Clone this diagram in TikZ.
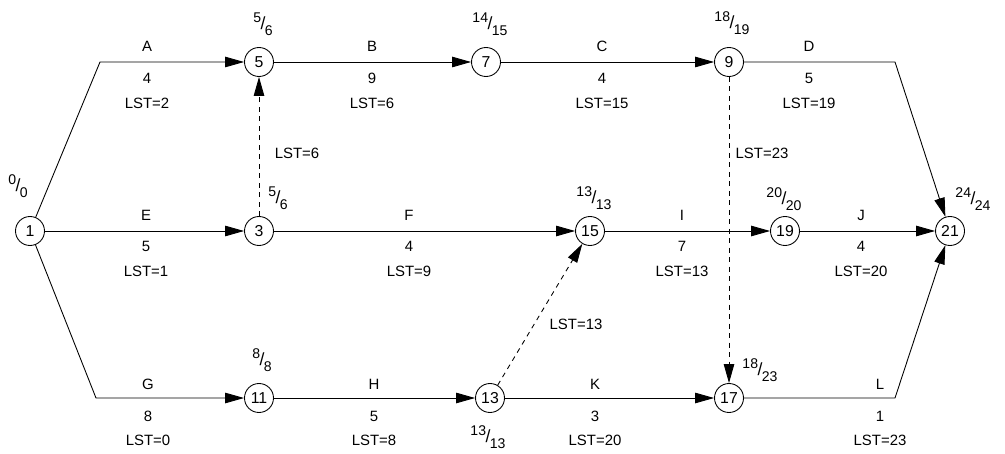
\documentclass[tikz,border=0pt]{standalone}
\usepackage{fontspec}
\setmainfont{Liberation Sans}
\usepackage{tikz}
\usetikzlibrary{arrows.meta}

\newcommand{\evt}[2]{\raisebox{4pt}{\fontsize{8}{9}\selectfont #1}\hspace{-0.3pt}{\fontsize{10}{11}\selectfont /}\hspace{-0.3pt}\raisebox{-3.5pt}{\fontsize{8}{9}\selectfont #2}}

\begin{document}
\begin{tikzpicture}[
		event/.style={circle, draw, line width=0.5pt, minimum size=0.58cm, inner sep=0pt, font=\fontsize{9}{10}\selectfont},
		arrow/.style={-{Triangle[length=3.8mm,width=2.1mm]}, line width=0.5pt},
		dummy/.style={arrow, dash pattern=on 2.8pt off 2.6pt},
		lbl/.style={inner sep=0pt, font=\fontsize{8.5}{10}\selectfont},
		times/.style={inner sep=0pt}
	]
	\useasboundingbox (0,0) rectangle (20.1,9.06);

	% Events
	\node[event] (n1) at (0.60,4.44) {1};
	\node[event] (n5) at (5.18,7.82) {5};
	\node[event] (n7) at (9.72,7.82) {7};
	\node[event] (n9) at (14.58,7.82) {9};
	\node[event] (n3) at (5.18,4.44) {3};
	\node[event] (n15) at (11.80,4.44) {15};
	\node[event] (n19) at (15.70,4.44) {19};
	\node[event] (n21) at (19.00,4.44) {21};
	\node[event] (n11) at (5.18,1.10) {11};
	\node[event] (n13) at (9.80,1.10) {13};
	\node[event] (n17) at (14.58,1.10) {17};

	% Bends
	\coordinate (cA) at (2.00,7.82);
	\coordinate (cG) at (1.92,1.10);
	\coordinate (cD) at (17.90,7.82);
	\coordinate (cL) at (17.90,1.10);

	% Earliest / latest times
	\node[times] (t1) at (0.36,5.34) {\evt{0}{0}};
	\node[times] (t5) at (5.26,8.58) {\evt{5}{6}};
	\node[times] (t7) at (9.80,8.58) {\evt{14}{15}};
	\node[times] (t9) at (14.64,8.60) {\evt{18}{19}};
	\node[times] (t3) at (5.56,5.10) {\evt{5}{6}};
	\node[times] (t15) at (11.88,5.10) {\evt{13}{13}};
	\node[times] (t19) at (15.68,5.08) {\evt{20}{20}};
	\node[times] (t21) at (19.46,5.08) {\evt{24}{24}};
	\node[times] (t11) at (5.24,1.86) {\evt{8}{8}};
	\node[times] (t13) at (9.76,0.32) {\evt{13}{13}};
	\node[times] (t17) at (15.20,1.66) {\evt{18}{23}};

	% Activities
	\draw[arrow] (n1) -- (cA) -- (n5);
	\draw[arrow] (n5) -- (n7);
	\draw[arrow] (n7) -- (n9);
	\draw[arrow] (n9) -- (cD) -- (n21);
	\draw[arrow] (n1) -- (n3);
	\draw[arrow] (n3) -- (n15);
	\draw[arrow] (n15) -- (n19);
	\draw[arrow] (n19) -- (n21);
	\draw[arrow] (n1) -- (cG) -- (n11);
	\draw[arrow] (n11) -- (n13);
	\draw[arrow] (n13) -- (n17);
	\draw[arrow] (n17) -- (cL) -- (n21);

	% Dummies
	\draw[dummy] (n3) -- (n5);
	\draw[dummy] (n9) -- (n17);
	\draw[dummy] (n13) -- (n15);

	% Labels, top row
	\node[lbl] (lA) at (2.94,8.14) {A};
	\node[lbl] (dA) at (2.94,7.50) {4};
	\node[lbl] (sA) at (2.94,7.00) {LST=2};
	\node[lbl] (lB) at (7.44,8.14) {B};
	\node[lbl] (dB) at (7.44,7.50) {9};
	\node[lbl] (sB) at (7.44,7.00) {LST=6};
	\node[lbl] (lC) at (12.04,8.14) {C};
	\node[lbl] (dC) at (12.04,7.50) {4};
	\node[lbl] (sC) at (12.04,7.00) {LST=15};
	\node[lbl] (lD) at (16.18,8.14) {D};
	\node[lbl] (dD) at (16.18,7.50) {5};
	\node[lbl] (sD) at (16.18,7.00) {LST=19};

	% Labels, middle row
	\node[lbl] (lE) at (2.92,4.76) {E};
	\node[lbl] (dE) at (2.92,4.14) {5};
	\node[lbl] (sE) at (2.92,3.63) {LST=1};
	\node[lbl] (lF) at (8.18,4.76) {F};
	\node[lbl] (dF) at (8.18,4.14) {4};
	\node[lbl] (sF) at (8.18,3.63) {LST=9};
	\node[lbl] (lI) at (13.64,4.76) {I};
	\node[lbl] (dI) at (13.64,4.14) {7};
	\node[lbl] (sI) at (13.64,3.63) {LST=13};
	\node[lbl] (lJ) at (17.22,4.76) {J};
	\node[lbl] (dJ) at (17.22,4.14) {4};
	\node[lbl] (sJ) at (17.22,3.63) {LST=20};

	% Labels, bottom row
	\node[lbl] (lG) at (2.96,1.38) {G};
	\node[lbl] (dG) at (2.96,0.74) {8};
	\node[lbl] (sG) at (2.96,0.25) {LST=0};
	\node[lbl] (lH) at (7.48,1.38) {H};
	\node[lbl] (dH) at (7.48,0.74) {5};
	\node[lbl] (sH) at (7.48,0.25) {LST=8};
	\node[lbl] (lK) at (11.90,1.38) {K};
	\node[lbl] (dK) at (11.90,0.74) {3};
	\node[lbl] (sK) at (11.90,0.25) {LST=20};
	\node[lbl] (lL) at (17.60,1.38) {L};
	\node[lbl] (dL) at (17.60,0.74) {1};
	\node[lbl] (sL) at (17.60,0.25) {LST=23};

	% Labels, dummies
	\node[lbl] (s35) at (5.94,6.00) {LST=6};
	\node[lbl] (s917) at (15.24,6.00) {LST=23};
	\node[lbl] (s1315) at (11.52,2.58) {LST=13};

\end{tikzpicture}
\end{document}
